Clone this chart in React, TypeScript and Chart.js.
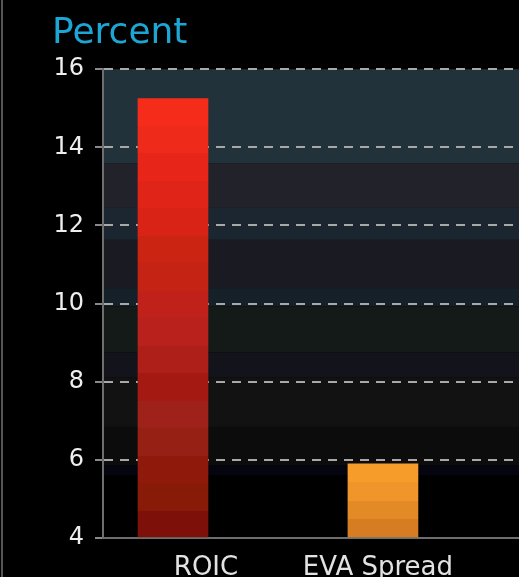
import React, { useEffect, useRef } from 'react';
import { Chart, registerables } from 'chart.js';

Chart.register(...registerables);

// ---- data ----
const CATEGORIES = ['ROIC', 'EVA Spread'];
const VALUES = [15.25, 5.9];
const Y_MIN = 4;
const Y_MAX = 16;
const Y_STEP = 2;
const AXIS_TITLE = 'Percent';

// ---- styling ----
const W = 519;
const H = 577;
const X_MIN = -1 / 3;
const X_MAX = 1.648;
const BAR_THICKNESS = 70;
const LABEL_NUDGE = [33, -5];

const ROIC_BANDS = [
  '#f62c1b', '#ee2a1a', '#e82519', '#e02418', '#d92316', '#cc2412', '#c52313', '#c0221b',
  '#b8211c', '#ad1f18', '#a41a12', '#9e2219', '#962014', '#8f1a0c', '#881a08', '#7d1008',
];
const EVA_BANDS = ['#f59c2a', '#f0952a', '#e38a27', '#d67d23'];
const BAR_BANDS = [ROIC_BANDS, EVA_BANDS];

// [end fraction of plot height, colour]
const BG_BANDS: [number, string][] = [
  [0.2004, '#22323a'],
  [0.296, '#22222b'],
  [0.364, '#1c2630'],
  [0.467, '#1a1a22'],
  [0.506, '#152029'],
  [0.604, '#131a18'],
  [0.657, '#13131b'],
  [0.763, '#121212'],
  [0.845, '#0c0c0c'],
  [0.866, '#05050f'],
  [1.0, '#000000'],
];

function bandGradient(ctx: CanvasRenderingContext2D, top: number, bottom: number, colors: string[]) {
  const g = ctx.createLinearGradient(0, top, 0, bottom);
  const n = colors.length;
  colors.forEach((c, k) => {
    g.addColorStop(k / n, c);
    g.addColorStop((k + 1) / n, c);
  });
  return g;
}

const decor = {
  id: 'decor',
  beforeDraw(chart: any) {
    const { ctx, chartArea: a } = chart;
    ctx.save();
    ctx.fillStyle = '#000';
    ctx.fillRect(0, 0, chart.width, chart.height);
    ctx.fillStyle = '#555555';
    ctx.fillRect(1, 0, 2, chart.height);
    let y0 = a.top;
    for (const [end, color] of BG_BANDS) {
      const y1 = a.top + end * (a.bottom - a.top);
      ctx.fillStyle = color;
      ctx.fillRect(a.left, y0, a.right - a.left, y1 - y0);
      y0 = y1;
    }
    ctx.restore();
  },
  afterDraw(chart: any) {
    const { ctx, chartArea: a } = chart;
    const xs = chart.scales.x;
    ctx.save();
    ctx.font = '26px "DejaVu Sans"';
    ctx.fillStyle = '#e2e2e2';
    ctx.textAlign = 'center';
    ctx.textBaseline = 'alphabetic';
    CATEGORIES.forEach((label, i) => {
      ctx.fillText(label, xs.getPixelForValue(i) + LABEL_NUDGE[i], a.bottom + 37);
    });
    ctx.restore();
  },
};

export default function App() {
  const ref = useRef<HTMLCanvasElement | null>(null);

  useEffect(() => {
    if (!ref.current) return;
    const chart = new Chart(ref.current, {
      type: 'bar',
      data: {
        datasets: [
          {
            label: AXIS_TITLE,
            data: VALUES.map((v, i) => ({ x: i, y: v })),
            base: Y_MIN,
            barThickness: BAR_THICKNESS,
            borderWidth: 0,
            backgroundColor: (c: any) => {
              const chart = c.chart;
              const colors = BAR_BANDS[c.dataIndex] || ROIC_BANDS;
              if (!chart.chartArea || c.type !== 'data' || !chart.scales.y) return colors[0];
              const ys = chart.scales.y;
              const top = ys.getPixelForValue(VALUES[c.dataIndex]);
              const bottom = ys.getPixelForValue(Y_MIN);
              return bandGradient(chart.ctx, top, bottom, colors);
            },
          },
        ],
      },
      options: {
        responsive: false,
        animation: false,
        devicePixelRatio: 1,
        layout: { padding: { left: 52, right: 0, top: 0, bottom: 39 } },
        plugins: {
          legend: { display: false },
          tooltip: { enabled: false },
          title: {
            display: true,
            text: AXIS_TITLE,
            align: 'start',
            color: '#1ca6d4',
            font: { family: 'DejaVu Sans', size: 36, weight: 'normal' },
            padding: { top: 12, bottom: 14 },
          },
        },
        scales: {
          x: {
            type: 'linear',
            offset: false,
            min: X_MIN,
            max: X_MAX,
            grid: { display: false, drawTicks: false },
            ticks: { display: false },
            border: { display: true, color: '#6e6e6e', width: 2 },
          },
          y: {
            min: Y_MIN,
            max: Y_MAX,
            ticks: {
              stepSize: Y_STEP,
              color: '#eeeeee',
              padding: 11,
              font: { family: 'DejaVu Sans', size: 24 },
            },
            grid: {
              color: '#a8a8a8',
              lineWidth: 2,
              tickColor: '#8a8a8a',
              tickLength: 8,
              tickWidth: 2,
            },
            border: { display: true, color: '#6e6e6e', width: 2, dash: [9, 7] },
            afterFit: (s: any) => {
              s.width = 51;
            },
          },
        },
      },
      plugins: [decor],
    });
    return () => chart.destroy();
  }, []);

  return (
    <div style={{ position: 'absolute', left: 0, top: 0, width: W, height: H, background: '#000' }}>
      <canvas ref={ref} width={W} height={H} style={{ display: 'block' }} />
    </div>
  );
}
